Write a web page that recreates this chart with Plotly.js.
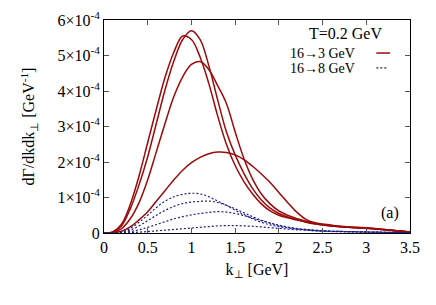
<!DOCTYPE html>
<html>
<head>
<meta charset="utf-8">
<script src="https://cdn.plot.ly/plotly-3.0.1.min.js"></script>
<style>html,body{margin:0;padding:0;background:#fff;}#chart{width:436px;height:305px;}</style>
</head>
<body>
<div id="chart"></div>
<script>
// k_perp grid [GeV]
const kPerp = [0,0.1,0.2,0.3,0.4,0.5,0.6,0.7,0.8,0.9,1.0,1.1,1.2,1.3,1.4,1.5,1.6,1.7,1.8,1.9,2.0,2.1,2.2,2.3,2.4,2.6,2.8,3.0,3.2,3.5];

// rates in units of 1e-4 GeV^-1 : 16 -> 3 GeV (solid, red)
const red1 = [0,0.02,0.2,0.68,1.35,2.15,3.1,4.05,4.85,5.45,5.7,5.45,4.7,3.75,2.85,2.2,1.68,1.25,0.93,0.7,0.55,0.45,0.38,0.32,0.27,0.2,0.16,0.14,0.1,0.03];
const red2 = [0,0.03,0.25,0.8,1.6,2.55,3.5,4.4,5.1,5.55,5.45,4.95,4.2,3.3,2.5,1.9,1.45,1.1,0.82,0.62,0.5,0.43,0.37,0.31,0.26,0.2,0.16,0.14,0.1,0.03];
const red3 = [0,0.01,0.12,0.4,0.85,1.5,2.3,3.1,3.85,4.4,4.75,4.83,4.6,4.15,3.65,2.85,2.1,1.52,1.1,0.82,0.62,0.5,0.41,0.34,0.28,0.21,0.17,0.15,0.1,0.03];
const red4 = [0,0.01,0.05,0.17,0.37,0.6,0.9,1.2,1.5,1.77,1.98,2.13,2.23,2.28,2.27,2.2,2.07,1.88,1.66,1.42,1.14,0.86,0.6,0.4,0.3,0.22,0.16,0.13,0.09,0.03];

// 16 -> 8 GeV (dotted, blue)
const blue1 = [0,0.005,0.03,0.13,0.3,0.5,0.72,0.9,1.02,1.09,1.12,1.1,1.02,0.9,0.78,0.64,0.52,0.4,0.3,0.23,0.18,0.14,0.11,0.09,0.07,0.05,0.04,0.03,0.02,0.01];
const blue2 = [0,0.003,0.02,0.08,0.2,0.35,0.5,0.64,0.75,0.83,0.87,0.89,0.9,0.86,0.78,0.68,0.57,0.46,0.36,0.28,0.21,0.16,0.12,0.1,0.08,0.05,0.04,0.03,0.02,0.01];
const blue3 = [0,0.002,0.01,0.04,0.09,0.16,0.24,0.32,0.4,0.46,0.51,0.55,0.58,0.6,0.59,0.55,0.49,0.42,0.35,0.28,0.22,0.17,0.13,0.1,0.08,0.05,0.04,0.03,0.02,0.01];
const blue4 = [0,0.001,0.003,0.01,0.025,0.04,0.06,0.08,0.1,0.12,0.14,0.16,0.18,0.2,0.21,0.21,0.2,0.19,0.17,0.15,0.13,0.11,0.09,0.08,0.06,0.04,0.03,0.02,0.015,0.01];

const xTickVals = [0,0.5,1,1.5,2,2.5,3,3.5];
const xTickText = ["0","0.5","1","1.5","2","2.5","3","3.5"];
const yTickVals = [0,1,2,3,4,5,6];
const yTickText = ["0","1×10<sup>-4</sup>","2×10<sup>-4</sup>","3×10<sup>-4</sup>","4×10<sup>-4</sup>","5×10<sup>-4</sup>","6×10<sup>-4</sup>"];

const RED = '#9b0a0a';
const BLUE = '#1c1c86';
const FONT = 'Liberation Serif, serif';

const traces = [];
[red1, red2, red3, red4].forEach(s => traces.push({
  x: kPerp, y: s, type: 'scatter', mode: 'lines',
  line: {color: RED, width: 1.5, shape: 'spline', smoothing: 1},
  showlegend: false, hoverinfo: 'skip'
}));
[blue1, blue2, blue3, blue4].forEach(s => traces.push({
  x: kPerp, y: s, type: 'scatter', mode: 'lines',
  line: {color: BLUE, width: 1.2, dash: '2px,2px', shape: 'spline', smoothing: 1},
  showlegend: false, hoverinfo: 'skip'
}));

const layout = {
  width: 436, height: 305,
  margin: {l: 104, r: 26, t: 20, b: 72},
  paper_bgcolor: '#fff', plot_bgcolor: '#fff',
  font: {family: FONT, size: 16, color: '#000'},
  showlegend: false,
  xaxis: {
    range: [0, 3.5], tickvals: xTickVals, ticktext: xTickText,
    ticks: 'inside', ticklen: 5, tickcolor: '#555', mirror: 'ticks',
    showline: true, linecolor: '#000', linewidth: 1,
    showgrid: false, zeroline: false,
    tickfont: {family: FONT, size: 16},
    title: {text: 'k<sub>⊥</sub> [GeV]', font: {family: FONT, size: 16}, standoff: 8}
  },
  yaxis: {
    range: [0, 6], tickvals: yTickVals, ticktext: yTickText,
    ticks: 'inside', ticklen: 5, tickcolor: '#555', mirror: 'ticks',
    showline: true, linecolor: '#000', linewidth: 1,
    showgrid: false, zeroline: false,
    tickfont: {family: FONT, size: 16},
    title: {text: 'dΓ/dkdk<sub>⊥</sub> [GeV<sup>-1</sup>]', font: {family: FONT, size: 16}, standoff: 18}
  },
  annotations: [
    {xref: 'paper', yref: 'paper', x: 0.915, y: 0.935, xanchor: 'right', yanchor: 'middle',
     text: 'T=0.2 GeV', showarrow: false, font: {family: FONT, size: 16}},
    {xref: 'paper', yref: 'paper', x: 0.6, y: 0.845, xanchor: 'left', yanchor: 'middle',
     text: '16→3 GeV', showarrow: false, font: {family: FONT, size: 14}},
    {xref: 'paper', yref: 'paper', x: 0.6, y: 0.77, xanchor: 'left', yanchor: 'middle',
     text: '16→8 GeV', showarrow: false, font: {family: FONT, size: 14}},
    {xref: 'paper', yref: 'paper', x: 0.935, y: 0.095, xanchor: 'center', yanchor: 'middle',
     text: '(a)', showarrow: false, font: {family: FONT, size: 16}}
  ],
  shapes: [
    {type: 'line', xref: 'paper', yref: 'paper', x0: 0.89, x1: 0.935, y0: 0.845, y1: 0.845,
     line: {color: RED, width: 1.5}},
    {type: 'line', xref: 'paper', yref: 'paper', x0: 0.89, x1: 0.925, y0: 0.775, y1: 0.775,
     line: {color: BLUE, width: 1.2, dash: '2px,2px'}}
  ]
};

Plotly.newPlot('chart', traces, layout, {displayModeBar: false, staticPlot: true});
</script>
</body>
</html>
